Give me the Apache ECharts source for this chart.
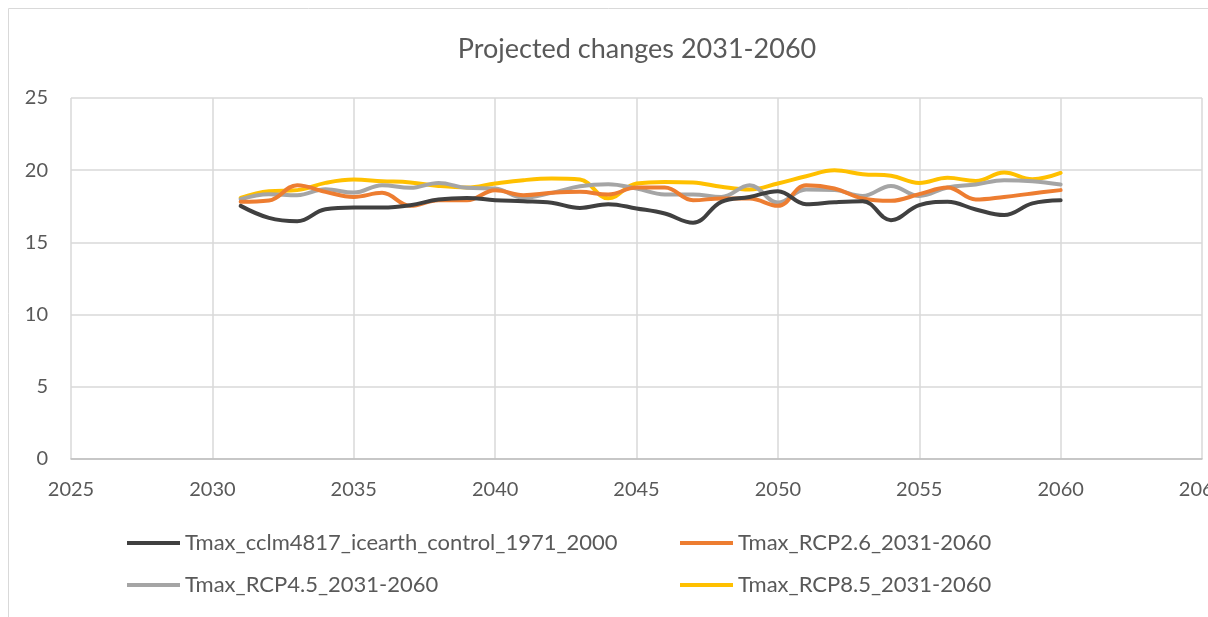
<!DOCTYPE html>
<html>
<head>
<meta charset="utf-8">
<script src="https://cdn.jsdelivr.net/npm/echarts@6/dist/echarts.min.js"></script>
<style>
html,body{margin:0;padding:0;background:#fff;}
#chart{width:1208px;height:617px;}
</style>
</head>
<body>
<div id="chart"></div>
<script>
var years = [2031,2032,2033,2034,2035,2036,2037,2038,2039,2040,2041,2042,2043,2044,2045,2046,2047,2048,2049,2050,2051,2052,2053,2054,2055,2056,2057,2058,2059,2060];
var seriesNames = ['Tmax_cclm4817_icearth_control_1971_2000','Tmax_RCP2.6_2031-2060','Tmax_RCP4.5_2031-2060','Tmax_RCP8.5_2031-2060'];
var control = [17.53,16.7,16.47,17.3,17.42,17.42,17.58,17.97,18.08,17.92,17.85,17.74,17.39,17.65,17.35,17.0,16.36,17.81,18.15,18.55,17.65,17.78,17.85,16.54,17.58,17.81,17.28,16.89,17.7,17.92];
var rcp26 = [17.81,17.9,18.96,18.5,18.15,18.43,17.53,17.92,17.92,18.62,18.27,18.43,18.5,18.32,18.8,18.8,17.92,18.04,18.04,17.53,18.96,18.73,18.04,17.88,18.34,18.8,17.97,18.15,18.39,18.62];
var rcp45 = [17.99,18.34,18.27,18.68,18.45,18.96,18.78,19.12,18.78,18.73,18.09,18.43,18.89,19.03,18.73,18.32,18.32,18.15,18.96,17.76,18.66,18.62,18.22,18.91,18.22,18.8,19.01,19.31,19.24,19.01];
var rcp85 = [18.09,18.55,18.62,19.12,19.35,19.24,19.15,18.91,18.8,19.08,19.31,19.42,19.35,18.05,19.08,19.19,19.15,18.85,18.66,19.08,19.58,20.0,19.72,19.61,19.12,19.47,19.26,19.84,19.38,19.81];
var colors = ['#404040','#ED7D31','#A5A5A5','#FFC000'];
var allValues = [control, rcp26, rcp45, rcp85];

function pairs(vals){ return years.map(function(y,i){ return [y, vals[i]]; }); }

var font = 'Lato';
var chart = echarts.init(document.getElementById('chart'));
var legendPos = [[127,532],[680,532],[127,574],[680,574]];
chart.setOption({
  animation:false,
  color: colors,
  graphic:[{type:'rect', shape:{x:8.5,y:8.5,width:1400,height:900}, style:{fill:'none', stroke:'#d9d9d9', lineWidth:1}, silent:true}],
  title:{text:'Projected changes 2031-2060', left:632, textAlign:'center', top:31,
    textStyle:{fontFamily:font, fontSize:27, fontWeight:'normal', color:'#595959'}},
  grid:{left:71, right:6, top:98, bottom:158, outerBoundsMode:'none', containLabel:false},
  xAxis:{type:'value', min:2025, max:2065, interval:5,
    axisLine:{show:true, onZero:false, lineStyle:{color:'#bfbfbf', width:1.5}},
    axisTick:{show:false},
    splitLine:{show:true, lineStyle:{color:'#d9d9d9', width:1.5}},
    axisLabel:{fontFamily:font, fontSize:20, color:'#595959', margin:21, showMaxLabel:true,
      formatter:function(v){ return String(v); }}},
  yAxis:{type:'value', min:0, max:25, interval:5,
    axisLine:{show:false}, axisTick:{show:false},
    splitLine:{show:true, lineStyle:{color:'#d9d9d9', width:1.5}},
    axisLabel:{fontFamily:font, fontSize:20, color:'#595959', margin:23}},
  legend: seriesNames.map(function(n,i){
    return {data:[n], left:legendPos[i][0], top:legendPos[i][1], padding:0, icon:'rect', itemWidth:53, itemHeight:4, itemGap:0,
      textStyle:{fontFamily:font, fontSize:22, color:'#595959', padding:[0,0,0,0]}};
  }),
  series: seriesNames.map(function(n,i){
    return {name:n, type:'line', data:pairs(allValues[i]), smooth:0.4, showSymbol:false, symbol:'none',
      lineStyle:{width:4, color:colors[i], cap:'round'}, z: 10-i};
  })
});
</script>
</body>
</html>
